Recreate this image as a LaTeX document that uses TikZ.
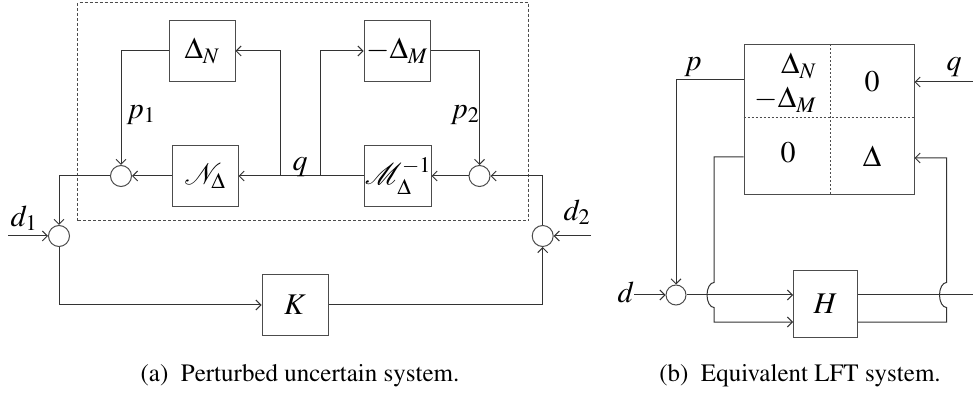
\documentclass[tikz,border=0pt]{standalone}
\usepackage[T1]{fontenc}
\usepackage{mathptmx}
\usetikzlibrary{arrows.meta,positioning}
\tikzset{every picture/.style={line width=1pt}}
\tikzset{
  blk/.style={draw=black!70, minimum width=66pt, minimum height=61pt, inner sep=0pt},
  sumc/.style={circle, draw=black!70, minimum size=21pt, inner sep=0pt},
  sig/.style={draw=black!80, ->},
  lbl/.style={font=\fontsize{30}{34}\selectfont},
  capt/.style={font=\fontsize{25}{29}\selectfont},
  >={Straight Barb[length=5pt,width=10pt]}
}

\begin{document}
\begin{tikzpicture}[x=1pt, y=1pt, every node/.style={lbl}]
    \useasboundingbox (0,0) rectangle (973,396);
    % (a) perturbed system
    \draw[black!70, dash pattern=on 3pt off 2pt] (77.5,175.3) rectangle (528.5,393.3);
    \node[blk] (dn) at (202,345) {$\Delta_N$};
    \node[blk] (dm) at (397,345) {$-\Delta_M$};
    \node[blk] (nd) at (205,220) {$\mathcal{N}_\Delta$};
    \node[blk] (mi) at (398,220) {$\mathcal{M}_\Delta^{-1}$};
    \node[sumc] (s1) at (121,220) {};
    \node[sumc] (s2) at (479.5,220) {};
    \node[sumc] (s3) at (59,160) {};
    \node[sumc] (s4) at (542.7,160) {};
    \node[blk] (k) at (295,91) {$K$};
    \coordinate (j1) at (280,220);
    \coordinate (j2) at (320,220);
    \coordinate (d1in) at (8,160);
    \coordinate (d2in) at (591,160);
    \draw[sig] (mi) -- (nd);
    \draw[sig] (j1) |- (dn);
    \draw[sig] (j2) |- (dm);
    \draw[sig] (dn) -| (s1);
    \draw[sig] (dm) -| (s2);
    \draw[sig] (nd) -- (s1);
    \draw[sig] (s2) -- (mi);
    \draw[sig] (s1) -| (s3);
    \draw[sig] (s4) |- (s2);
    \draw[sig] (d1in) -- (s3);
    \draw[sig] (d2in) -- (s4);
    \draw[sig] (s3) |- (k);
    \draw[sig] (k) -| (s4);
    \node (p1) at (141,281) {$p_1$};
    \node (p2) at (465,281) {$p_2$};
    \node (q1) at (300,229) {$q$};
    \node (d1) at (24,178) {$d_1$};
    \node (d2) at (577,184) {$d_2$};
    \node[capt] (ca) at (300,20) {(a)\enskip Perturbed uncertain system.};
    % (b) LFT form
    \node[draw=black!70, minimum width=170pt, minimum height=150pt, inner sep=0pt] (lft) at (829,276) {};
    \draw[black!70, dash pattern=on 2pt off 2pt] (lft.north -| 830,0) -- (lft.south -| 830,0);
    \draw[black!70, dash pattern=on 2pt off 2pt] (lft.west |- 0,278) -- (lft.east |- 0,278);
    \node[anchor=east] (en) at (820,330) {$\Delta_N$};
    \node[anchor=east] (em) at (820,296) {$-\Delta_M$};
    \node (z1) at (872,314) {$0$};
    \node (z2) at (788,243) {$0$};
    \node (dd) at (872,240) {$\Delta$};
    \node[sumc, minimum size=20pt] (s5) at (676,101) {};
    \node[blk, minimum width=64pt, minimum height=66pt] (h) at (825.5,92) {$H$};
    \coordinate (din) at (634,101);
    \coordinate (qin) at (973,314);
    \coordinate (hout) at (973,101);
    \coordinate (ja) at (714,113.5);
    \coordinate (jc) at (946.5,88.5);
    \draw[sig] ([yshift=40pt]lft.west) -| (s5);
    \draw[sig] (qin) -- ([yshift=38pt]lft.east);
    \draw[sig] (din) -- (s5);
    \draw[sig] (s5) -- (s5 -| h.west);
    \draw[sig] ([yshift=-37pt]lft.west) -| (ja)
        arc[start angle=90, end angle=270, x radius=7, y radius=12.5]
        |- ([yshift=-18pt]h.west);
    \draw[sig] ([yshift=-18pt]h.east) -| (jc)
        arc[start angle=270, end angle=90, x radius=7, y radius=12.5]
        |- ([yshift=-38pt]lft.east);
    \draw[draw=black!80] ([yshift=9pt]h.east) -- (hout);
    \node (p) at (693,329) {$p$};
    \node (q2) at (954,329) {$q$};
    \node (d) at (626,104) {$d$};
    \node[capt] (cb) at (800,20) {(b)\enskip Equivalent LFT system.};
\end{tikzpicture}
\end{document}
